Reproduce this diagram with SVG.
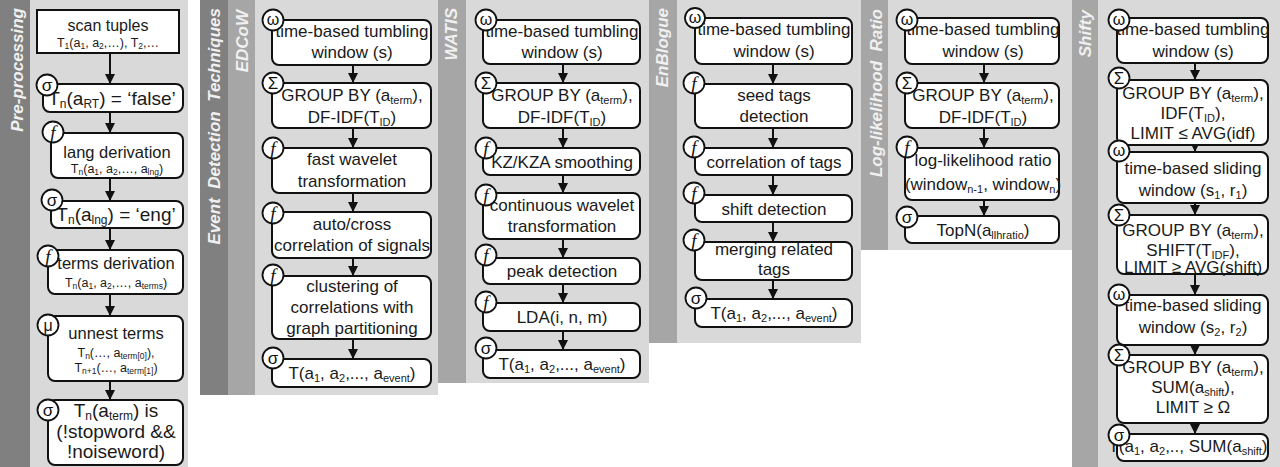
<svg xmlns="http://www.w3.org/2000/svg" width="1280" height="467" viewBox="0 0 1280 467">
<style>
.dark{fill:#808080}
.mid{fill:#a6a6a6}
.panel{fill:#d9d9d9}
.lbl{font-family:"Liberation Sans",Arial,sans-serif;font-size:17px;font-weight:bold;font-style:italic;fill:#f0f0f0}
.box{fill:#fff;stroke:#111;stroke-width:2}
.t{font-family:"Liberation Sans",Arial,sans-serif;font-size:17px;fill:#1a1a1a;text-anchor:middle}
.tb{font-family:"Liberation Sans",Arial,sans-serif;font-size:19px;fill:#1a1a1a;text-anchor:middle}
.ts{font-family:"Liberation Sans",Arial,sans-serif;font-size:12.5px;fill:#1a1a1a;text-anchor:middle}
.sub{font-size:11px}
.subb{font-size:12px}
.subs{font-size:8.5px}
.c{fill:#fff;stroke:#111;stroke-width:1.8}
.sym{font-family:"Liberation Sans",Arial,sans-serif;font-size:17px;fill:#111;text-anchor:middle}
.symf{font-family:"Liberation Serif","Times New Roman",serif;font-size:19px;font-style:italic;fill:#111;text-anchor:middle}
.conn line{stroke:#111;stroke-width:2;marker-end:url(#ah)}
</style>
<defs>
<marker id="ah" markerUnits="userSpaceOnUse" markerWidth="10" markerHeight="10" refX="10" refY="5" orient="auto"><path d="M0,0 L10,5 L0,10 z" fill="#111"/></marker>
</defs>

<g id="backgrounds">
<rect class="dark" x="0" y="0" width="30" height="467"/>
<rect class="panel" x="30" y="0" width="158" height="467"/>
<rect class="dark" x="200" y="0" width="28" height="395"/>
<rect class="mid" x="228" y="0" width="27" height="395"/>
<rect class="panel" x="255" y="0" width="183" height="395"/>
<rect class="mid" x="438" y="0" width="28" height="383"/>
<rect class="panel" x="466" y="0" width="183" height="383"/>
<rect class="mid" x="649" y="0" width="28" height="343"/>
<rect class="panel" x="677" y="0" width="184" height="343"/>
<rect class="mid" x="861" y="0" width="27" height="250"/>
<rect class="panel" x="888" y="0" width="184" height="250"/>
<rect class="mid" x="1072" y="0" width="26" height="467"/>
<rect class="panel" x="1098" y="0" width="182" height="467"/>
</g>

<g id="labels">
<text class="lbl" text-anchor="end" transform="translate(23,8) rotate(-90)">Pre-processing</text>
<text class="lbl" text-anchor="end" xml:space="preserve" transform="translate(220,8) rotate(-90)">Event  Detection  Techniques</text>
<text class="lbl" text-anchor="end" transform="translate(248,10) rotate(-90)">EDCoW</text>
<text class="lbl" text-anchor="end" transform="translate(457,8) rotate(-90)">WATIS</text>
<text class="lbl" text-anchor="end" transform="translate(668,8) rotate(-90)">EnBlogue</text>
<text class="lbl" text-anchor="end" xml:space="preserve" transform="translate(882,9) rotate(-90)">Log-likelihood  Ratio</text>
<text class="lbl" text-anchor="end" transform="translate(1091,10) rotate(-90)">Shifty</text>
</g>

<g id="connectors" class="conn">
<line x1="110" y1="53" x2="110" y2="84"/>
<line x1="110" y1="112" x2="110" y2="133"/>
<line x1="110" y1="178" x2="110" y2="201"/>
<line x1="110" y1="228" x2="110" y2="250"/>
<line x1="110" y1="294" x2="110" y2="316"/>
<line x1="110" y1="381" x2="110" y2="400"/>
<line x1="353" y1="65" x2="353" y2="83"/>
<line x1="353" y1="128" x2="353" y2="148"/>
<line x1="353" y1="193" x2="353" y2="212"/>
<line x1="353" y1="258" x2="353" y2="276"/>
<line x1="353" y1="339" x2="353" y2="359"/>
<line x1="563" y1="64" x2="563" y2="83"/>
<line x1="563" y1="128" x2="563" y2="148"/>
<line x1="563" y1="175" x2="563" y2="193"/>
<line x1="563" y1="239" x2="563" y2="258"/>
<line x1="563" y1="284" x2="563" y2="303"/>
<line x1="563" y1="331" x2="563" y2="350"/>
<line x1="773" y1="64" x2="773" y2="84"/>
<line x1="773" y1="128" x2="773" y2="148"/>
<line x1="773" y1="175" x2="773" y2="195"/>
<line x1="773" y1="222" x2="773" y2="242"/>
<line x1="773" y1="280" x2="773" y2="299"/>
<line x1="984" y1="64" x2="984" y2="83"/>
<line x1="984" y1="128" x2="984" y2="148"/>
<line x1="984" y1="200" x2="984" y2="216"/>
<line x1="1195" y1="63" x2="1195" y2="80"/>
<line x1="1195" y1="145" x2="1195" y2="152"/>
<line x1="1195" y1="203" x2="1195" y2="215"/>
<line x1="1195" y1="274" x2="1195" y2="295"/>
<line x1="1195" y1="345" x2="1195" y2="355"/>
<line x1="1195" y1="423" x2="1195" y2="434"/>
</g>

<!-- Pre-processing -->
<g id="pre-scan">
<rect class="box" x="37" y="10" width="142" height="43"/>
<text class="t" x="108" y="31" style="font-size:16px">scan tuples</text>
<text class="ts" x="108" y="47">T<tspan class="subs" dy="2">1</tspan><tspan dy="-2">(a</tspan><tspan class="subs" dy="2">1</tspan><tspan dy="-2">, a</tspan><tspan class="subs" dy="2">2</tspan><tspan dy="-2">,…), T</tspan><tspan class="subs" dy="2">2</tspan><tspan dy="-2">,…</tspan></text>
</g>
<g id="pre-rt">
<rect class="box" x="43" y="84" width="140" height="28" rx="7"/>
<text class="tb" x="112" y="104.5">T<tspan class="subb" dy="3">n</tspan><tspan dy="-3">(a</tspan><tspan class="subb" dy="3">RT</tspan><tspan dy="-3">) = ‘false’</tspan></text>
<circle class="c" cx="47" cy="85" r="10.5"/><text class="sym" x="47" y="90.5">σ</text>
</g>
<g id="pre-lang">
<rect class="box" x="51" y="133" width="132" height="45" rx="7"/>
<text class="t" x="117" y="158" style="font-size:16.5px">lang derivation</text>
<text class="ts" x="117" y="173">T<tspan class="subs" dy="2">n</tspan><tspan dy="-2">(a</tspan><tspan class="subs" dy="2">1</tspan><tspan dy="-2">, a</tspan><tspan class="subs" dy="2">2</tspan><tspan dy="-2">,…, a</tspan><tspan class="subs" dy="2">lng</tspan><tspan dy="-2">)</tspan></text>
<circle class="c" cx="53" cy="132" r="10.5"/><text class="symf" x="53" y="138.5">f</text>
</g>
<g id="pre-eng">
<rect class="box" x="51" y="201" width="132" height="27" rx="7"/>
<text class="tb" x="116" y="221">T<tspan class="subb" dy="3">n</tspan><tspan dy="-3">(a</tspan><tspan class="subb" dy="3">lng</tspan><tspan dy="-3">) = ‘eng’</tspan></text>
<circle class="c" cx="52" cy="200" r="10.5"/><text class="sym" x="52" y="205.5">σ</text>
</g>
<g id="pre-terms">
<rect class="box" x="48" y="250" width="135" height="44" rx="7"/>
<text class="t" x="116" y="269" style="font-size:16.5px">terms derivation</text>
<text class="ts" x="116" y="287">T<tspan class="subs" dy="2">n</tspan><tspan dy="-2">(a</tspan><tspan class="subs" dy="2">1</tspan><tspan dy="-2">, a</tspan><tspan class="subs" dy="2">2</tspan><tspan dy="-2">,…, a</tspan><tspan class="subs" dy="2">terms</tspan><tspan dy="-2">)</tspan></text>
<circle class="c" cx="48" cy="256" r="10.5"/><text class="symf" x="48" y="262.5">f</text>
</g>
<g id="pre-unnest">
<rect class="box" x="48" y="316" width="135" height="65" rx="7"/>
<text class="t" x="116" y="339" style="font-size:16.5px">unnest terms</text>
<text class="ts" x="116" y="357">T<tspan class="subs" dy="2">n</tspan><tspan dy="-2">(…, a</tspan><tspan class="subs" dy="2">term[0]</tspan><tspan dy="-2">),</tspan></text>
<text class="ts" x="116" y="372">T<tspan class="subs" dy="2">n+1</tspan><tspan dy="-2">(…, a</tspan><tspan class="subs" dy="2">term[1]</tspan><tspan dy="-2">)</tspan></text>
<circle class="c" cx="48" cy="325" r="10.5"/><text class="sym" x="48" y="330.5" style="font-size:16px">μ</text>
</g>
<g id="pre-stop">
<rect class="box" x="48" y="400" width="135" height="65" rx="7"/>
<text class="tb" x="116" y="417">T<tspan class="subb" dy="3">n</tspan><tspan dy="-3">(a</tspan><tspan class="subb" dy="3">term</tspan><tspan dy="-3">) is</tspan></text>
<text class="tb" x="116" y="438">(!stopword &amp;&amp;</text>
<text class="tb" x="116" y="458">!noiseword)</text>
<circle class="c" cx="48" cy="410" r="10.5"/><text class="sym" x="48" y="415.5">σ</text>
</g>

<!-- EDCoW -->
<g id="edcow-window">
<rect class="box" x="272" y="20" width="159" height="45" rx="7"/>
<text class="t" x="352" y="37">time-based tumbling</text>
<text class="t" x="352" y="58">window (s)</text>
<circle class="c" cx="273" cy="20" r="10.5"/><text class="sym" x="273" y="25" style="font-size:16px">ω</text>
</g>
<g id="edcow-group">
<rect class="box" x="272" y="83" width="159" height="45" rx="7"/>
<text class="t" x="352" y="101">GROUP BY (a<tspan class="sub" dy="3">term</tspan><tspan dy="-3">),</tspan></text>
<text class="t" x="352" y="123">DF-IDF(T<tspan class="sub" dy="3">ID</tspan><tspan dy="-3">)</tspan></text>
<circle class="c" cx="273" cy="83" r="10.5"/><text class="sym" x="273" y="89">Σ</text>
</g>
<g id="edcow-fwt">
<rect class="box" x="272" y="148" width="159" height="45" rx="7"/>
<text class="t" x="352" y="165">fast wavelet</text>
<text class="t" x="352" y="187">transformation</text>
<circle class="c" cx="273" cy="148" r="10.5"/><text class="symf" x="273" y="154.5">f</text>
</g>
<g id="edcow-corr">
<rect class="box" x="272" y="212" width="159" height="46" rx="7"/>
<text class="t" x="352" y="230">auto/cross</text>
<text class="t" x="352" y="251">correlation of signals</text>
<circle class="c" cx="273" cy="213" r="10.5"/><text class="symf" x="273" y="219.5">f</text>
</g>
<g id="edcow-cluster">
<rect class="box" x="272" y="276" width="159" height="63" rx="7"/>
<text class="t" x="352" y="292">clustering of</text>
<text class="t" x="352" y="313">correlations with</text>
<text class="t" x="352" y="334">graph partitioning</text>
<circle class="c" cx="273" cy="275" r="10.5"/><text class="symf" x="273" y="281.5">f</text>
</g>
<g id="edcow-out">
<rect class="box" x="272" y="359" width="159" height="28" rx="7"/>
<text class="t" x="352" y="379">T(a<tspan class="sub" dy="3">1</tspan><tspan dy="-3">, a</tspan><tspan class="sub" dy="3">2</tspan><tspan dy="-3">,..., a</tspan><tspan class="sub" dy="3">event</tspan><tspan dy="-3">)</tspan></text>
<circle class="c" cx="273" cy="358" r="10.5"/><text class="sym" x="273" y="363.5">σ</text>
</g>

<!-- WATIS -->
<g id="watis-window">
<rect class="box" x="483" y="20" width="157" height="44" rx="7"/>
<text class="t" x="562" y="37">time-based tumbling</text>
<text class="t" x="562" y="58">window (s)</text>
<circle class="c" cx="486" cy="20" r="10.5"/><text class="sym" x="486" y="25" style="font-size:16px">ω</text>
</g>
<g id="watis-group">
<rect class="box" x="483" y="83" width="157" height="45" rx="7"/>
<text class="t" x="562" y="101">GROUP BY (a<tspan class="sub" dy="3">term</tspan><tspan dy="-3">),</tspan></text>
<text class="t" x="562" y="123">DF-IDF(T<tspan class="sub" dy="3">ID</tspan><tspan dy="-3">)</tspan></text>
<circle class="c" cx="486" cy="83" r="10.5"/><text class="sym" x="486" y="89">Σ</text>
</g>
<g id="watis-kz">
<rect class="box" x="483" y="148" width="157" height="27" rx="7"/>
<text class="t" x="562" y="167.5">KZ/KZA smoothing</text>
<circle class="c" cx="486" cy="148" r="10.5"/><text class="symf" x="486" y="154.5">f</text>
</g>
<g id="watis-cwt">
<rect class="box" x="483" y="193" width="157" height="46" rx="7"/>
<text class="t" x="562" y="211">continuous wavelet</text>
<text class="t" x="562" y="232">transformation</text>
<circle class="c" cx="486" cy="195" r="10.5"/><text class="symf" x="486" y="201.5">f</text>
</g>
<g id="watis-peak">
<rect class="box" x="483" y="258" width="157" height="26" rx="7"/>
<text class="t" x="562" y="277">peak detection</text>
<circle class="c" cx="486" cy="255" r="10.5"/><text class="symf" x="486" y="261.5">f</text>
</g>
<g id="watis-lda">
<rect class="box" x="483" y="303" width="157" height="28" rx="7"/>
<text class="t" x="562" y="323">LDA(i, n, m)</text>
<circle class="c" cx="486" cy="302" r="10.5"/><text class="symf" x="486" y="308.5">f</text>
</g>
<g id="watis-out">
<rect class="box" x="483" y="350" width="157" height="28" rx="7"/>
<text class="t" x="562" y="370">T(a<tspan class="sub" dy="3">1</tspan><tspan dy="-3">, a</tspan><tspan class="sub" dy="3">2</tspan><tspan dy="-3">,..., a</tspan><tspan class="sub" dy="3">event</tspan><tspan dy="-3">)</tspan></text>
<circle class="c" cx="486" cy="348" r="10.5"/><text class="sym" x="486" y="353.5">σ</text>
</g>

<!-- EnBlogue -->
<g id="enblogue-window">
<rect class="box" x="695" y="18" width="157" height="46" rx="7"/>
<text class="t" x="774" y="35">time-based tumbling</text>
<text class="t" x="774" y="57">window (s)</text>
<circle class="c" cx="695" cy="18" r="10"/><text class="sym" x="695" y="23" style="font-size:16px">ω</text>
</g>
<g id="enblogue-seed">
<rect class="box" x="695" y="84" width="157" height="44" rx="7"/>
<text class="t" x="774" y="101">seed tags</text>
<text class="t" x="774" y="122">detection</text>
<circle class="c" cx="694" cy="83" r="10.5"/><text class="symf" x="694" y="89.5">f</text>
</g>
<g id="enblogue-corr">
<rect class="box" x="695" y="148" width="157" height="27" rx="7"/>
<text class="t" x="774" y="167.5">correlation of tags</text>
<circle class="c" cx="694" cy="147" r="10.5"/><text class="symf" x="694" y="153.5">f</text>
</g>
<g id="enblogue-shift">
<rect class="box" x="695" y="195" width="157" height="27" rx="7"/>
<text class="t" x="774" y="214.5">shift detection</text>
<circle class="c" cx="694" cy="193" r="10.5"/><text class="symf" x="694" y="199.5">f</text>
</g>
<g id="enblogue-merge">
<rect class="box" x="695" y="242" width="157" height="38" rx="7"/>
<text class="t" x="774" y="254.5">merging related</text>
<text class="t" x="774" y="275">tags</text>
<circle class="c" cx="694" cy="240" r="10.5"/><text class="symf" x="694" y="246.5">f</text>
</g>
<g id="enblogue-out">
<rect class="box" x="695" y="299" width="157" height="28" rx="7"/>
<text class="t" x="774" y="319">T(a<tspan class="sub" dy="3">1</tspan><tspan dy="-3">, a</tspan><tspan class="sub" dy="3">2</tspan><tspan dy="-3">,..., a</tspan><tspan class="sub" dy="3">event</tspan><tspan dy="-3">)</tspan></text>
<circle class="c" cx="696" cy="298" r="10.5"/><text class="sym" x="696" y="303.5">σ</text>
</g>

<!-- Log-likelihood Ratio -->
<g id="llr-window">
<rect class="box" x="905" y="18" width="154" height="46" rx="7"/>
<text class="t" x="983" y="35">time-based tumbling</text>
<text class="t" x="983" y="57">window (s)</text>
<circle class="c" cx="907" cy="20" r="10.5"/><text class="sym" x="907" y="25" style="font-size:16px">ω</text>
</g>
<g id="llr-group">
<rect class="box" x="905" y="83" width="154" height="45" rx="7"/>
<text class="t" x="983" y="101">GROUP BY (a<tspan class="sub" dy="3">term</tspan><tspan dy="-3">),</tspan></text>
<text class="t" x="983" y="123">DF-IDF(T<tspan class="sub" dy="3">ID</tspan><tspan dy="-3">)</tspan></text>
<circle class="c" cx="907" cy="83" r="10.5"/><text class="sym" x="907" y="89">Σ</text>
</g>
<g id="llr-ratio">
<rect class="box" x="905" y="148" width="154" height="52" rx="7"/>
<text class="t" x="983" y="166">log-likelihood ratio</text>
<text class="t" x="983" y="190">(window<tspan class="sub" dy="3">n-1</tspan><tspan dy="-3">, window</tspan><tspan class="sub" dy="3">n</tspan><tspan dy="-3">)</tspan></text>
<circle class="c" cx="907" cy="147" r="10.5"/><text class="symf" x="907" y="153.5">f</text>
</g>
<g id="llr-topn">
<rect class="box" x="905" y="216" width="154" height="27" rx="7"/>
<text class="t" x="983" y="235.5">TopN(a<tspan class="sub" dy="3">llhratio</tspan><tspan dy="-3">)</tspan></text>
<circle class="c" cx="907" cy="217" r="10.5"/><text class="sym" x="907" y="222.5">σ</text>
</g>

<!-- Shifty -->
<g id="shifty-window">
<rect class="box" x="1117" y="18" width="151" height="45" rx="7"/>
<text class="t" x="1193" y="35">time-based tumbling</text>
<text class="t" x="1193" y="57">window (s)</text>
<circle class="c" cx="1119" cy="20" r="10.5"/><text class="sym" x="1119" y="25" style="font-size:16px">ω</text>
</g>
<g id="shifty-group1">
<rect class="box" x="1117" y="80" width="151" height="65" rx="7"/>
<text class="t" x="1193" y="99">GROUP BY (a<tspan class="sub" dy="3">term</tspan><tspan dy="-3">),</tspan></text>
<text class="t" x="1193" y="119">IDF(T<tspan class="sub" dy="3">ID</tspan><tspan dy="-3">),</tspan></text>
<text class="t" x="1193" y="139">LIMIT ≤ AVG(idf)</text>
<circle class="c" cx="1119" cy="78" r="10.5"/><text class="sym" x="1119" y="84">Σ</text>
</g>
<g id="shifty-slide1">
<rect class="box" x="1117" y="152" width="151" height="51" rx="7"/>
<text class="t" x="1193" y="174">time-based sliding</text>
<text class="t" x="1193" y="196">window (s<tspan class="sub" dy="3">1</tspan><tspan dy="-3">, r</tspan><tspan class="sub" dy="3">1</tspan><tspan dy="-3">)</tspan></text>
<circle class="c" cx="1119" cy="151" r="10.5"/><text class="sym" x="1119" y="156" style="font-size:16px">ω</text>
</g>
<g id="shifty-group2">
<rect class="box" x="1117" y="215" width="151" height="59" rx="7"/>
<text class="t" x="1193" y="236">GROUP BY (a<tspan class="sub" dy="3">term</tspan><tspan dy="-3">),</tspan></text>
<text class="t" x="1193" y="256">SHIFT(T<tspan class="sub" dy="3">IDF</tspan><tspan dy="-3">),</tspan></text>
<text class="t" x="1193" y="273">LIMIT ≥ AVG(shift)</text>
<circle class="c" cx="1119" cy="215" r="10.5"/><text class="sym" x="1119" y="221">Σ</text>
</g>
<g id="shifty-slide2">
<rect class="box" x="1117" y="295" width="151" height="50" rx="7"/>
<text class="t" x="1193" y="311">time-based sliding</text>
<text class="t" x="1193" y="333">window (s<tspan class="sub" dy="3">2</tspan><tspan dy="-3">, r</tspan><tspan class="sub" dy="3">2</tspan><tspan dy="-3">)</tspan></text>
<circle class="c" cx="1119" cy="295" r="10.5"/><text class="sym" x="1119" y="300" style="font-size:16px">ω</text>
</g>
<g id="shifty-group3">
<rect class="box" x="1117" y="355" width="151" height="68" rx="7"/>
<text class="t" x="1193" y="373">GROUP BY (a<tspan class="sub" dy="3">term</tspan><tspan dy="-3">),</tspan></text>
<text class="t" x="1193" y="393">SUM(a<tspan class="sub" dy="3">shift</tspan><tspan dy="-3">),</tspan></text>
<text class="t" x="1193" y="413">LIMIT ≥ Ω</text>
<circle class="c" cx="1119" cy="355" r="10.5"/><text class="sym" x="1119" y="361">Σ</text>
</g>
<g id="shifty-out">
<rect class="box" x="1117" y="434" width="151" height="27" rx="7"/>
<text class="t" x="1188" y="452">T(a<tspan class="sub" dy="3">1</tspan><tspan dy="-3">, a</tspan><tspan class="sub" dy="3">2</tspan><tspan dy="-3">,.., SUM(a</tspan><tspan class="sub" dy="3">shift</tspan><tspan dy="-3">)</tspan></text>
<circle class="c" cx="1119" cy="435" r="10.5"/><text class="sym" x="1119" y="440.5">σ</text>
</g>
</svg>
